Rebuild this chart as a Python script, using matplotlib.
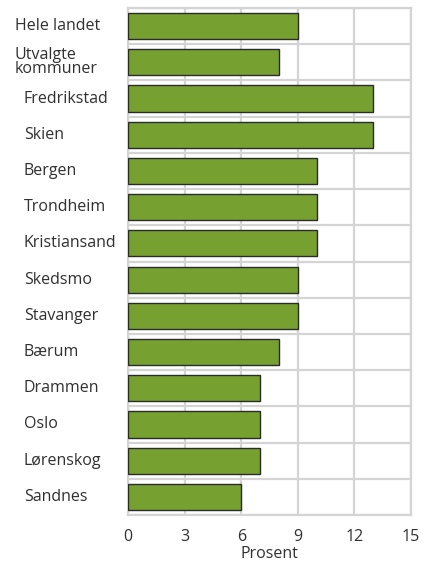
import matplotlib
matplotlib.use("Agg")
import matplotlib.pyplot as plt
import numpy as np

plt.rcParams['font.family'] = ['Open Sans', 'DejaVu Sans']

categories = ["Hele landet", "Utvalgte\nkommuner", "Fredrikstad", "Skien", "Bergen",
              "Trondheim", "Kristiansand", "Skedsmo", "Stavanger", "Bærum",
              "Drammen", "Oslo", "Lørenskog", "Sandnes"]
values = [9, 8, 13, 13, 10, 10, 10, 9, 9, 8, 7, 7, 7, 6]
xticks = [0, 3, 6, 9, 12, 15]
indented = [False, False] + [True] * 12

FS = 11.5
TC = '#303030'

fig = plt.figure(figsize=(4.35, 5.65), dpi=100)
ax = fig.add_axes([128/435, 1 - 515/565, (411-128)/435, (515-8)/565])

n = len(categories)
y = np.arange(n)
ax.barh(y, values, height=0.72, color='#76a030', edgecolor='#2b2b2b', linewidth=1.0, zorder=3)
ax.set_ylim(n - 0.5, -0.5)
ax.set_xlim(0, 15)
ax.set_xticks(xticks)
ax.set_xticklabels([str(t) for t in xticks], fontsize=FS, color=TC)
ax.set_yticks(y)
ax.set_yticklabels([])
ax.set_yticks(np.arange(-0.5, n, 1), minor=True)
ax.tick_params(axis='both', which='both', length=0)
ax.tick_params(axis='x', pad=10)
ax.grid(True, axis='x', which='major', color='#d4d4d4', linewidth=1.6, zorder=0)
ax.grid(True, axis='y', which='minor', color='#d4d4d4', linewidth=1.6, zorder=0)
for s in ax.spines.values():
    s.set_color('#d4d4d4')
    s.set_linewidth(1.6)

trans = matplotlib.transforms.blended_transform_factory(fig.transFigure, ax.transData)
for i, (lab, ind) in enumerate(zip(categories, indented)):
    xpix = 24 if ind else 15
    ax.text(xpix / 435, i, lab, transform=trans,
            ha='left', va='center', fontsize=FS, color=TC, linespacing=0.85)

ax.set_xlabel("Prosent", fontsize=FS, color=TC, labelpad=1)

fig.savefig("out.png", dpi=100)
